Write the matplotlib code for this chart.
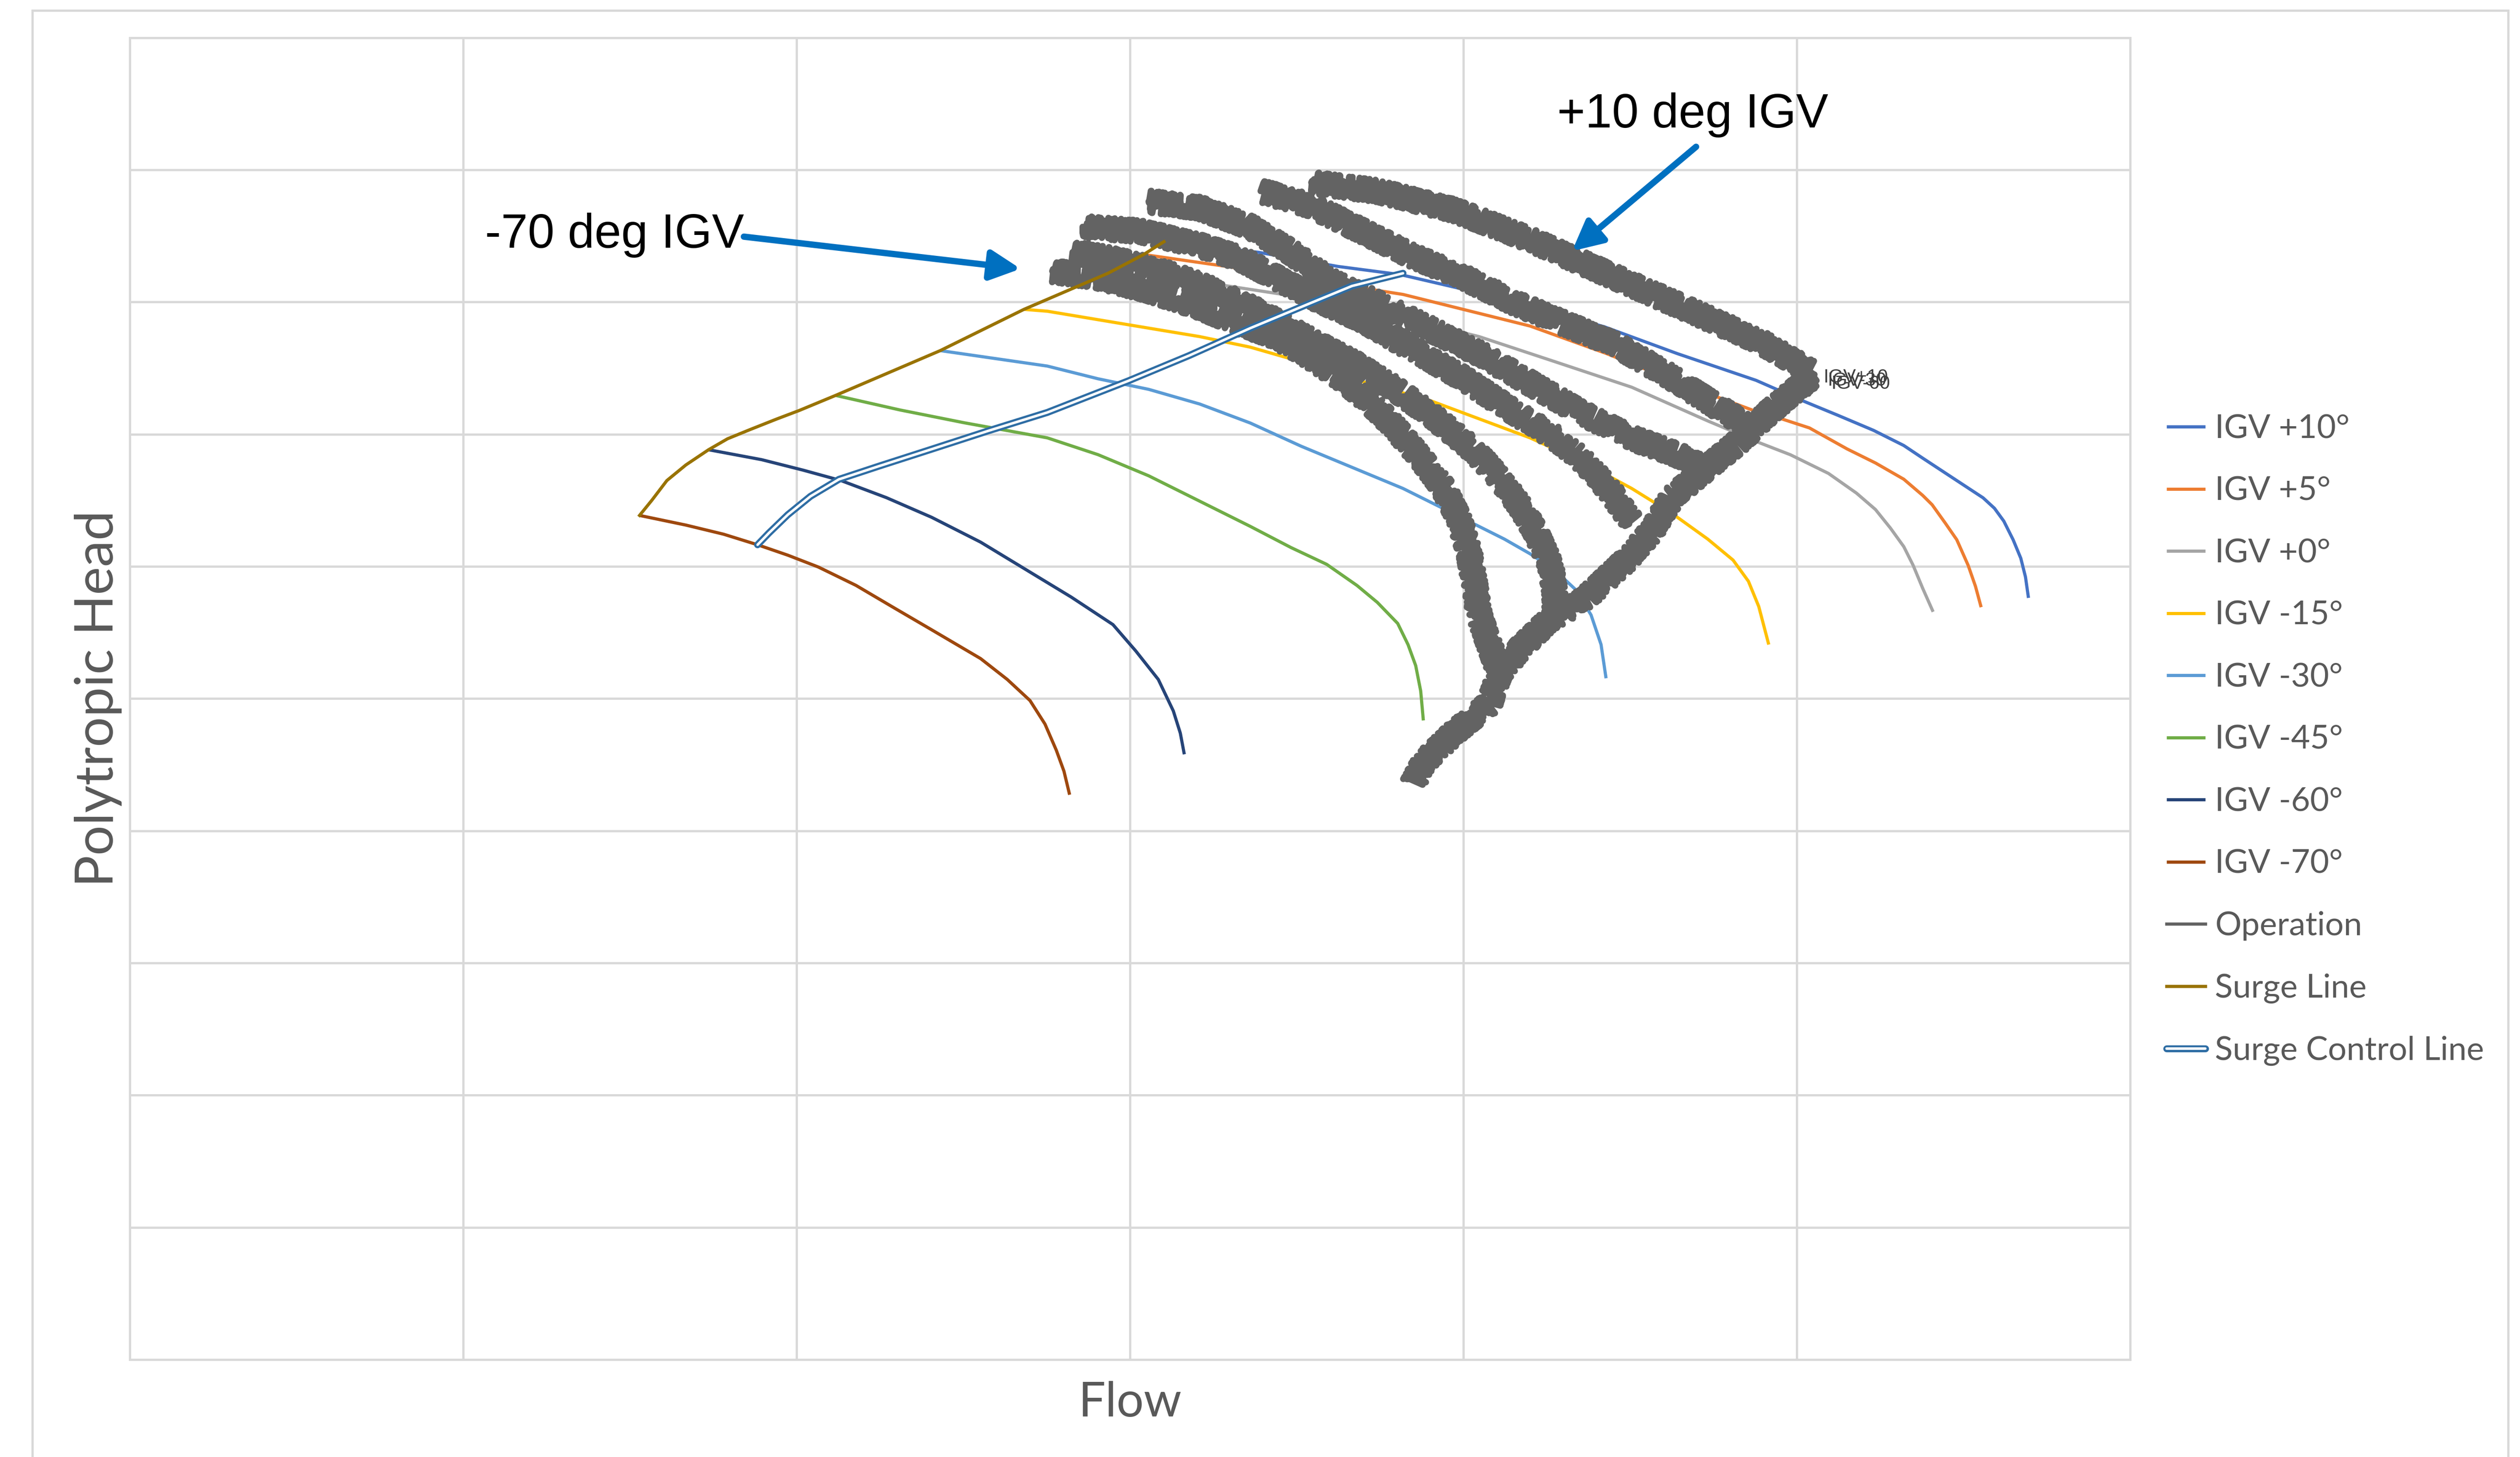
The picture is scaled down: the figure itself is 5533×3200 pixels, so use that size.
import numpy as np
import matplotlib
matplotlib.use("Agg")
import matplotlib.pyplot as plt
from matplotlib.lines import Line2D
from matplotlib.patches import Rectangle
from matplotlib.legend_handler import HandlerTuple

# Compressor map in grid units (6 flow divisions x 10 head divisions)
IGV_LABELS = ["IGV +10°", "IGV +5°", "IGV +0°", "IGV -15°",
              "IGV -30°", "IGV -45°", "IGV -60°", "IGV -70°"]
IGV_COLORS = ["#4472C4", "#ED7D31", "#A5A5A5", "#FFC000",
              "#5B9BD5", "#70AD47", "#264478", "#9E480E"]

IGV_P10_X = [3.102, 3.387, 3.623, 3.811, 4.125, 4.423, 4.642, 4.878, 5.021,
             5.123, 5.230, 5.321, 5.378, 5.463, 5.559, 5.593, 5.621, 5.649,
             5.672, 5.686, 5.695]
IGV_P10_Y = [8.457, 8.376, 8.270, 8.208, 8.024, 7.813, 7.610, 7.408, 7.250,
             7.144, 7.030, 6.915, 6.819, 6.678, 6.519, 6.440, 6.343, 6.202,
             6.062, 5.921, 5.762]
IGV_P5_X = [3.041, 3.361, 3.575, 3.819, 4.047, 4.200, 4.428, 4.657, 4.886,
            4.942, 5.038, 5.151, 5.236, 5.321, 5.378, 5.406, 5.446, 5.480,
            5.514, 5.536, 5.553]
IGV_P5_Y = [8.360, 8.244, 8.154, 8.058, 7.915, 7.819, 7.612, 7.380, 7.165,
            7.127, 7.048, 6.889, 6.783, 6.660, 6.537, 6.467, 6.326, 6.202,
            6.009, 5.850, 5.692]
IGV_0_X = [2.934, 3.209, 3.666, 4.047, 4.276, 4.505, 4.733, 4.891, 4.981,
           5.095, 5.179, 5.236, 5.281, 5.321, 5.349, 5.378, 5.409]
IGV_0_Y = [8.218, 8.154, 7.979, 7.739, 7.548, 7.356, 7.101, 6.933, 6.845,
           6.704, 6.555, 6.431, 6.290, 6.150, 6.009, 5.833, 5.657]
IGV_M15_X = [2.682, 2.752, 2.980, 3.209, 3.361, 3.514, 3.666, 3.895, 4.047,
             4.200, 4.352, 4.505, 4.627, 4.733, 4.809, 4.855, 4.886, 4.916]
IGV_M15_Y = [7.945, 7.931, 7.835, 7.739, 7.659, 7.548, 7.420, 7.260, 7.117,
             6.973, 6.798, 6.590, 6.399, 6.207, 6.048, 5.888, 5.697, 5.409]
IGV_M30_X = [2.431, 2.752, 2.904, 3.056, 3.209, 3.361, 3.514, 3.666, 3.819,
             3.971, 4.123, 4.200, 4.276, 4.337, 4.383, 4.413, 4.428]
IGV_M30_Y = [7.633, 7.516, 7.420, 7.340, 7.229, 7.085, 6.909, 6.750, 6.590,
             6.399, 6.207, 6.096, 5.968, 5.824, 5.633, 5.409, 5.154]
IGV_M45_X = [2.117, 2.310, 2.503, 2.752, 2.904, 3.056, 3.209, 3.361, 3.483,
             3.590, 3.681, 3.742, 3.803, 3.834, 3.857, 3.872, 3.880]
IGV_M45_Y = [7.294, 7.184, 7.087, 6.973, 6.846, 6.686, 6.494, 6.303, 6.143,
             6.016, 5.856, 5.728, 5.569, 5.409, 5.250, 5.058, 4.835]
IGV_M60_X = [1.736, 1.895, 2.019, 2.133, 2.269, 2.405, 2.552, 2.688, 2.824,
             2.949, 3.017, 3.085, 3.130, 3.151, 3.163]
IGV_M60_Y = [6.883, 6.808, 6.729, 6.650, 6.521, 6.372, 6.184, 5.976, 5.768,
             5.560, 5.362, 5.145, 4.907, 4.739, 4.579]
IGV_M70_X = [1.529, 1.668, 1.781, 1.883, 1.974, 2.065, 2.178, 2.291, 2.405,
             2.552, 2.632, 2.700, 2.745, 2.779, 2.802, 2.819]
IGV_M70_Y = [6.386, 6.313, 6.244, 6.164, 6.085, 5.996, 5.857, 5.689, 5.521,
             5.303, 5.145, 4.986, 4.808, 4.610, 4.451, 4.273]

SURGE_X = [1.529, 1.566, 1.611, 1.668, 1.736, 1.793, 1.861, 1.940, 2.008,
           2.117, 2.431, 2.682, 2.934, 3.041, 3.102]
SURGE_Y = [6.386, 6.501, 6.650, 6.768, 6.883, 6.966, 7.036, 7.115, 7.180,
           7.294, 7.633, 7.945, 8.218, 8.360, 8.457]

SCL_X = [1.883, 1.917, 1.974, 2.042, 2.127, 2.246, 2.405, 2.575, 2.752,
         2.995, 3.178, 3.361, 3.544, 3.666, 3.819]
SCL_Y = [6.164, 6.253, 6.392, 6.531, 6.659, 6.758, 6.887, 7.026, 7.165,
         7.404, 7.596, 7.803, 7.995, 8.122, 8.218]

# Operating data: a spine plus six runs, one per guide vane setting
OP_SPINE_X = [5.053, 4.916, 4.840, 4.733, 4.627, 4.566, 4.489, 4.367, 4.261,
              4.169, 4.108, 4.078, 3.971, 3.880, 3.849]
OP_SPINE_Y = [7.452, 7.165, 6.973, 6.750, 6.526, 6.271, 6.048, 5.760, 5.601,
              5.377, 5.186, 4.962, 4.739, 4.515, 4.356]
OP_RUN1_X = [2.767, 2.904, 3.056, 3.209, 3.331, 3.438, 3.544, 3.636, 3.712,
             3.788, 3.864, 3.941, 3.986, 4.017, 4.032, 4.047, 4.078, 4.101]
OP_RUN1_Y = [8.234, 8.186, 8.090, 7.963, 7.835, 7.739, 7.580, 7.420, 7.260,
             7.069, 6.846, 6.590, 6.367, 6.111, 5.888, 5.633, 5.409, 5.250]
OP_RUN2_X = [2.828, 2.980, 3.133, 3.285, 3.407, 3.544, 3.666, 3.788, 3.910,
             4.017, 4.093, 4.169, 4.215, 4.261, 4.276, 4.276]
OP_RUN2_Y = [8.378, 8.314, 8.202, 8.058, 7.899, 7.707, 7.548, 7.356, 7.133,
             6.909, 6.718, 6.463, 6.271, 6.016, 5.760, 5.633]
OP_RUN3_X = [2.858, 3.026, 3.194, 3.331, 3.438, 3.559, 3.697, 3.849, 4.002,
             4.154, 4.276, 4.367, 4.444, 4.505]
OP_RUN3_Y = [8.569, 8.537, 8.441, 8.330, 8.186, 8.026, 7.867, 7.643, 7.420,
             7.165, 6.973, 6.782, 6.558, 6.335]
OP_RUN4_X = [3.056, 3.209, 3.361, 3.483, 3.605, 3.742, 3.895, 4.047, 4.200,
             4.352, 4.505, 4.642, 4.718]
OP_RUN4_Y = [8.761, 8.713, 8.569, 8.378, 8.154, 7.995, 7.803, 7.612, 7.388,
             7.165, 6.973, 6.846, 6.750]
OP_RUN5_X = [3.392, 3.544, 3.697, 3.849, 4.002, 4.154, 4.306, 4.459, 4.611,
             4.748, 4.870]
OP_RUN5_Y = [8.840, 8.729, 8.537, 8.346, 8.186, 7.995, 7.835, 7.675, 7.452,
             7.229, 7.037]
OP_RUN6_X = [3.544, 3.742, 3.971, 4.200, 4.428, 4.657, 4.886, 5.038]
OP_RUN6_Y = [8.904, 8.840, 8.697, 8.473, 8.218, 7.963, 7.707, 7.484]

OP_TAGS = ["IGV+10", "IGV-30", "IGV-60"]

GRID = "#D9D9D9"
TEXT = "#595959"
ARROW = "#0070C0"
OP_GRAY = "#636363"


def join_runs(xs, ys):
    out_x, out_y = [], []
    for x, y in zip(xs, ys):
        out_x += list(x) + [np.nan]
        out_y += list(y) + [np.nan]
    return out_x, out_y


fig = plt.figure(figsize=(55.33, 32), dpi=100)
ax = fig.add_axes([0.0515, 0.0669, 0.7938, 0.9072])

# chart area border, runs off the bottom of the image
fig.add_artist(Rectangle((71 / 5533, -0.02), (5507 - 71) / 5533, 1.0128,
                         transform=fig.transFigure, fill=False,
                         edgecolor=GRID, linewidth=3.6))

igv_x = [IGV_P10_X, IGV_P5_X, IGV_0_X, IGV_M15_X, IGV_M30_X, IGV_M45_X,
         IGV_M60_X, IGV_M70_X]
igv_y = [IGV_P10_Y, IGV_P5_Y, IGV_0_Y, IGV_M15_Y, IGV_M30_Y, IGV_M45_Y,
         IGV_M60_Y, IGV_M70_Y]
handles = []
for x, y, c, lab in zip(igv_x, igv_y, IGV_COLORS, IGV_LABELS):
    ln, = ax.plot(x, y, color=c, lw=5, solid_joinstyle="round",
                  solid_capstyle="butt", label=lab, zorder=3)
    handles.append(ln)

op_x, op_y = join_runs(
    [OP_SPINE_X, OP_RUN1_X, OP_RUN2_X, OP_RUN3_X, OP_RUN4_X, OP_RUN5_X, OP_RUN6_X],
    [OP_SPINE_Y, OP_RUN1_Y, OP_RUN2_Y, OP_RUN3_Y, OP_RUN4_Y, OP_RUN5_Y, OP_RUN6_Y])
# heavy sketch wiggle gives the noisy logged-data band
op_line, = ax.plot(op_x, op_y, color=OP_GRAY, lw=10, zorder=4,
                   solid_joinstyle="round", solid_capstyle="round")
op_line.set_sketch_params(scale=24, length=3, randomness=30)
handles.append(Line2D([], [], color=OP_GRAY, lw=5))

for i, tag in enumerate(OP_TAGS):
    ax.text(5.079 + 0.012 * i, 7.43 - 0.025 * i, tag, fontsize=30,
            color="#404040", va="center", ha="left", zorder=6,
            family="Liberation Sans")

surge, = ax.plot(SURGE_X, SURGE_Y, color="#997300", lw=5, zorder=5,
                 solid_joinstyle="round")
handles.append(surge)

scl_outer, = ax.plot(SCL_X, SCL_Y, color="#2E6DA4", lw=11, zorder=6,
                     solid_capstyle="round", solid_joinstyle="round")
scl_inner, = ax.plot(SCL_X, SCL_Y, color="white", lw=4, zorder=7,
                     solid_capstyle="round", solid_joinstyle="round")
handles.append((scl_outer, scl_inner))

labels = IGV_LABELS + ["Operation", "Surge Line", "Surge Control Line"]
leg = ax.legend(handles, labels, loc="upper left",
                bbox_to_anchor=(0.8598, 0.7158), bbox_transform=fig.transFigure,
                frameon=False, borderpad=0, borderaxespad=0,
                handlelength=1.18, handletextpad=0.29, labelspacing=0.99,
                prop={"family": "Lato", "size": 52},
                handler_map={tuple: HandlerTuple(ndivide=1, pad=0)})
for t in leg.get_texts():
    t.set_color(TEXT)

# callouts
for tip, tail in [((2.672, 8.252), (1.842, 8.495)),
                  ((4.326, 8.386), (4.698, 9.175))]:
    ax.annotate("", xy=tip, xytext=tail,
                arrowprops=dict(arrowstyle="-|>,head_length=0.4,head_width=0.2",
                                color=ARROW, lw=10, mutation_scale=100,
                                shrinkA=0, shrinkB=0), zorder=8)
ax.text(1.842, 8.507, "-70 deg IGV", ha="right", va="center", fontsize=76,
        color="black", family="Liberation Sans", zorder=8)
ax.text(4.688, 9.417, "+10 deg IGV", ha="center", va="center", fontsize=76,
        color="black", family="Liberation Sans", zorder=8)

ax.set_xlim(0, 6)
ax.set_ylim(0, 10)
ax.set_xticks(np.arange(0, 7))
ax.set_yticks(np.arange(0, 11))
ax.set_xticklabels([])
ax.set_yticklabels([])
ax.tick_params(length=0)
ax.grid(True, color=GRID, lw=3.6)
ax.set_axisbelow(True)
for s in ax.spines.values():
    s.set_color(GRID)
    s.set_linewidth(3.6)

ax.set_xlabel("Flow", fontsize=76, color=TEXT, family="Lato")
ax.xaxis.set_label_coords(0.5, -0.0327)
ax.xaxis.label.set_va("center")
ax.set_ylabel("Polytropic Head", fontsize=84, color=TEXT, family="Lato")
ax.yaxis.set_label_coords(-0.0159, 0.5)
ax.yaxis.label.set_va("center")

fig.savefig("out.png", dpi=100, facecolor="white")
